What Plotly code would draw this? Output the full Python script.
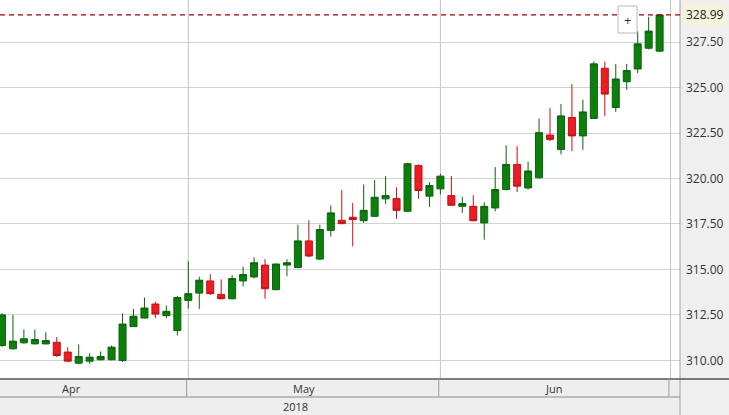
import plotly.graph_objects as go
import pandas as pd

# ---- data ----
dates = pd.bdate_range("2018-04-06", "2018-06-29")

open_ = [310.82, 310.64, 310.97, 310.91, 310.91, 311.00, 310.46, 309.85, 309.96, 310.04,
         310.04, 310.00, 311.86, 312.33, 313.10, 312.46, 311.64,
         313.30, 313.70, 314.37, 313.63, 313.39, 314.37, 314.59, 315.24, 313.89, 315.24,
         315.11, 316.57, 315.57, 317.15, 317.70, 317.87, 317.68, 317.92, 318.88, 318.90,
         318.20, 320.72, 319.03,
         319.43, 319.06, 318.47, 318.47, 317.56, 318.38, 319.39, 320.77, 319.48, 320.04,
         322.39, 321.60, 323.35, 322.34, 323.30, 326.06, 323.90, 325.32, 326.02, 327.16,
         327.00]
high = [312.60, 312.50, 311.70, 311.70, 311.55, 311.28, 310.73, 310.88, 310.40, 310.49,
        310.82, 312.59, 312.83, 313.46, 313.23, 313.01, 313.55,
        315.45, 314.60, 314.74, 314.46, 314.69, 315.15, 315.67, 315.57, 315.33, 315.56,
        317.46, 317.70, 317.46, 318.52, 319.37, 318.66, 319.67, 319.91, 320.13, 319.52,
        320.86, 320.77, 319.80,
        320.26, 320.13, 318.99, 319.08, 318.69, 320.63, 321.82, 321.78, 320.92, 323.30,
        323.87, 324.09, 325.19, 324.33, 326.43, 326.43, 326.30, 326.30, 328.08, 328.88,
        329.00]
low = [310.75, 310.60, 310.91, 310.88, 310.88, 310.18, 309.93, 309.78, 309.82, 310.00,
       310.00, 309.91, 311.84, 312.30, 312.33, 312.33, 311.37,
       312.85, 312.83, 313.60, 313.35, 313.35, 314.07, 314.50, 313.39, 313.85, 314.63,
       315.06, 315.67, 315.52, 316.81, 317.48, 316.27, 317.56, 317.88, 318.60, 317.78,
       318.15, 318.88, 318.44,
       319.12, 318.50, 318.11, 317.65, 316.64, 318.20, 319.35, 319.25, 319.39, 320.00,
       322.06, 321.33, 321.51, 321.57, 323.28, 323.44, 323.66, 324.88, 325.80, 327.10,
       326.95]
close = [312.50, 311.06, 311.19, 311.15, 311.09, 310.27, 309.96, 310.22, 310.18, 310.22,
         310.73, 312.00, 312.43, 312.88, 312.55, 312.70, 313.46,
         313.67, 314.41, 313.67, 313.39, 314.50, 314.72, 315.37, 313.94, 315.30, 315.37,
         316.57, 315.74, 317.19, 318.11, 317.52, 317.74, 318.25, 318.97, 319.06, 318.25,
         320.81, 319.34, 319.61,
         320.13, 318.53, 318.62, 317.68, 318.47, 319.39, 320.77, 319.58, 320.41, 322.52,
         322.15, 323.44, 322.34, 323.66, 326.30, 324.64, 325.47, 325.93, 327.40, 328.10,
         328.99]

y_ticks = [310.0, 312.5, 315.0, 317.5, 320.0, 322.5, 325.0, 327.5]
month_labels = ["Apr", "May", "Jun"]
year_label = "2018"
last_price = close[-1]

# ---- geometry ----
W, H = 729, 415
ML, MR, MT, MB = 0, 49, 0, 36
PW, PH = W - ML - MR, H - MT - MB

idx = list(range(len(dates)))
x_range = [-0.18, len(dates) + 0.86]

# month boundaries (first trading day of each month, incl. the one after the data)
months = [d.month for d in dates]
bounds = [i for i in range(1, len(dates)) if months[i] != months[i - 1]] + [len(dates)]
# April starts 4 trading days before the first visible day (Apr 2)
starts = [-4] + bounds[:-1]
ends = [b - 1 for b in bounds]
label_shift = [0.3, -0.4, 0.3]

GREEN = "#0c7f0c"
RED = "#ec1c24"

fig = go.Figure()
fig.add_trace(go.Candlestick(
    x=idx, open=open_, high=high, low=low, close=close,
    increasing=dict(line=dict(color="#0a640a", width=1), fillcolor=GREEN),
    decreasing=dict(line=dict(color="#c41015", width=1), fillcolor=RED),
    whiskerwidth=0, showlegend=False, hoverinfo="skip",
))

shapes = []
# right axis panel background
shapes.append(dict(type="rect", xref="paper", yref="paper", x0=1, x1=W / PW,
                   y0=-MB / PH, y1=1, fillcolor="#efefef", line=dict(width=0), layer="below"))
shapes.append(dict(type="line", xref="paper", yref="paper", x0=1, x1=1, y0=-MB / PH, y1=1,
                   line=dict(color="#a0a0a0", width=1)))
# bottom axis rows
shapes.append(dict(type="rect", xref="paper", yref="paper", x0=0, x1=1,
                   y0=-MB / PH, y1=0, fillcolor="#eeeeee", line=dict(width=0), layer="below"))
shapes.append(dict(type="line", xref="paper", yref="paper", x0=0, x1=W / PW, y0=0, y1=0,
                   line=dict(color="#555555", width=1.5)))
shapes.append(dict(type="line", xref="paper", yref="paper", x0=0, x1=1,
                   y0=-18 / PH, y1=-18 / PH, line=dict(color="#8a8a8a", width=1)))
# vertical month gridlines + dividers in the month row
for b in bounds:
    shapes.append(dict(type="line", xref="x", yref="paper", x0=b, x1=b, y0=0, y1=1,
                       line=dict(color="#c4c4c4", width=1), layer="below"))
    shapes.append(dict(type="line", xref="x", yref="paper", x0=b - 0.15, x1=b - 0.15,
                       y0=-18 / PH, y1=0, line=dict(color="#9a9a9a", width=1)))
# last price dashed line
shapes.append(dict(type="line", xref="paper", yref="y", x0=0, x1=1, y0=last_price, y1=last_price,
                   line=dict(color="#a80000", width=1.2, dash="5px,4px")))
# "+" button
shapes.append(dict(type="rect", xref="paper", yref="paper", x0=618 / PW, x1=637 / PW,
                   y0=1 - 33 / PH, y1=1 - 6 / PH, fillcolor="white",
                   line=dict(color="#b8b8b8", width=1)))

annotations = []
for lab, s, e, sh in zip(month_labels, starts, ends, label_shift):
    annotations.append(dict(x=(s + e) / 2 + sh, xref="x", y=-9 / PH, yref="paper", text=lab,
                            showarrow=False, font=dict(size=11, color="#333333"),
                            xanchor="center", yanchor="middle"))
annotations.append(dict(x=26.8, xref="x", y=-27 / PH, yref="paper", text=year_label,
                        showarrow=False, font=dict(size=11, color="#333333"),
                        xanchor="center", yanchor="middle"))
annotations.append(dict(x=1 + 3 / PW, xref="paper", y=last_price, yref="y",
                        text=f"{last_price:.2f}", showarrow=False, xanchor="left",
                        yanchor="middle", bgcolor="#f6f2dc", borderpad=2,
                        font=dict(size=12, color="#222222")))
annotations.append(dict(x=627.5 / PW, xref="paper", y=1 - 19.5 / PH, yref="paper", text="+",
                        showarrow=False, font=dict(size=13, color="#333333"),
                        xanchor="center", yanchor="middle"))

fig.update_layout(
    width=W, height=H,
    margin=dict(l=ML, r=MR, t=MT, b=MB, pad=0),
    paper_bgcolor="white", plot_bgcolor="white",
    font=dict(family="Open Sans, Noto Sans, sans-serif", color="#333333"),
    boxgap=0.36, boxgroupgap=0,
    shapes=shapes, annotations=annotations,
    xaxis=dict(range=x_range, showgrid=False, showticklabels=False, zeroline=False,
               rangeslider=dict(visible=False), fixedrange=True),
    yaxis=dict(side="right", range=[308.98, 329.81], tickvals=y_ticks,
               ticktext=[f"{v:.2f}" for v in y_ticks], showgrid=True,
               gridcolor="#d2d2d2", gridwidth=1, zeroline=False, fixedrange=True,
               tickfont=dict(size=12, color="#333333"), ticks="", ticklabelstandoff=5),
)

fig.write_html("out.html", config={"displayModeBar": False, "staticPlot": True},
               post_script="document.body.style.margin='0';")
